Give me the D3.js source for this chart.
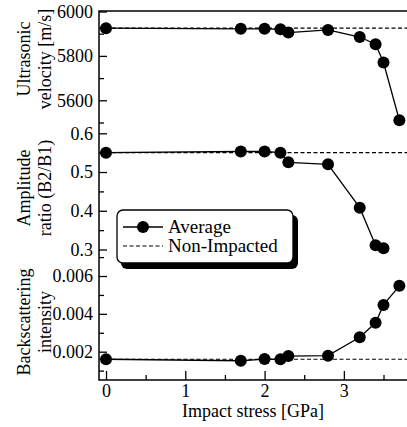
<!DOCTYPE html>
<html><head><meta charset="utf-8">
<script src="https://cdn.jsdelivr.net/npm/d3@7"></script>
<style>body{margin:0;background:#fff}svg{display:block}text{font-family:"Liberation Serif","Times New Roman",serif}</style>
</head><body><svg id="c" width="407" height="427"></svg>
<script>
const stress = [0, 1.7, 2.0, 2.2, 2.3, 2.8, 3.2, 3.4, 3.5, 3.7];
const velocity = [5925, 5922, 5922, 5920, 5905, 5917, 5885, 5853, 5770, 5510];
const velocityRef = 5925;
const amplitudeStress = [0, 1.7, 2.0, 2.2, 2.3, 2.8, 3.2, 3.4, 3.5];
const amplitude = [0.550, 0.553, 0.553, 0.550, 0.525, 0.520, 0.408, 0.311, 0.303];
const amplitudeRef = 0.550;
const backscatter = [0.00160, 0.00152, 0.00161, 0.00160, 0.00177, 0.00179, 0.00276, 0.00353, 0.00447, 0.00548];
const backscatterRef = 0.00160;
const xTicks = [0, 1, 2, 3];
const velTicks = [5600, 5800, 6000];
const ampTicks = [0.3, 0.4, 0.5, 0.6];
const bsTicks = [0.002, 0.004, 0.006];
const legendLabels = ["Average", "Non-Impacted"];

const svg = d3.select("#c");
const L = 99, R = 409, T = 11, B = 380;
const x = d3.scaleLinear().domain([0, 3.8]).range([106, 407.3]);
const yV = d3.scaleLinear().domain([5500, 6000]).range([122.5, 11.5]);
const yA = d3.scaleLinear().domain([0.3, 0.6]).range([249.5, 133.3]);
const yB = d3.scaleLinear().domain([0.001, 0.007]).range([370.6, 257.1]);

function yAxis(scale, major, minor, fmt) {
  const gMin = svg.append("g").attr("transform", `translate(${L},0)`)
    .call(d3.axisLeft(scale).tickValues(minor).tickSizeInner(-5).tickSizeOuter(0).tickFormat(""));
  gMin.select(".domain").remove();
  const g = svg.append("g").attr("transform", `translate(${L},0)`)
    .call(d3.axisLeft(scale).tickValues(major).tickSizeInner(-8).tickSizeOuter(0).tickPadding(6).tickFormat(fmt));
  g.select(".domain").remove();
  [gMin, g].forEach(gg => gg.selectAll("line").attr("stroke", "#000").attr("stroke-width", 1.3));
  g.selectAll("text").attr("font-size", 18).attr("fill", "#000")
    .attr("font-family", '"Liberation Serif",serif');
}
yAxis(yV, velTicks, [5500, 5700, 5900], d3.format("d"));
yAxis(yA, ampTicks, [0.35, 0.45, 0.55], d3.format(".1f"));
yAxis(yB, bsTicks, [0.001, 0.003, 0.005, 0.007], d3.format(".3f"));

const gxMin = svg.append("g").attr("transform", `translate(0,${B})`)
  .call(d3.axisBottom(x).tickValues([0.5, 1.5, 2.5, 3.5]).tickSizeInner(-5).tickSizeOuter(0).tickFormat(""));
gxMin.select(".domain").remove();
const gx = svg.append("g").attr("transform", `translate(0,${B})`)
  .call(d3.axisBottom(x).tickValues(xTicks).tickSizeInner(-9).tickSizeOuter(0).tickPadding(4).tickFormat(d3.format("d")));
gx.select(".domain").remove();
[gxMin, gx].forEach(gg => gg.selectAll("line").attr("stroke", "#000").attr("stroke-width", 1.3));
gx.selectAll("text").attr("font-size", 18).attr("fill", "#000").attr("font-family", '"Liberation Serif",serif');

// frame
svg.append("rect").attr("x", L).attr("y", T).attr("width", R - L).attr("height", B - T)
  .attr("fill", "none").attr("stroke", "#000").attr("stroke-width", 1.5);

function series(xs, ys, ys0, scale) {
  svg.append("line").attr("x1", L).attr("x2", R).attr("y1", scale(ys0)).attr("y2", scale(ys0))
    .attr("stroke", "#000").attr("stroke-width", 1.2).attr("stroke-dasharray", "4,2.5");
  const pts = xs.map((d, i) => [d, ys[i]]);
  svg.append("path").attr("d", d3.line().x(d => x(d[0])).y(d => scale(d[1]))(pts))
    .attr("fill", "none").attr("stroke", "#000").attr("stroke-width", 1.3);
  svg.append("g").selectAll("circle").data(pts).join("circle")
    .attr("cx", d => x(d[0])).attr("cy", d => scale(d[1])).attr("r", 6).attr("fill", "#000");
}
series(stress, velocity, velocityRef, yV);
series(amplitudeStress, amplitude, amplitudeRef, yA);
series(stress, backscatter, backscatterRef, yB);

// legend
const lg = svg.append("g");
lg.append("rect").attr("x", 121).attr("y", 215).attr("width", 177).attr("height", 54).attr("rx", 6).attr("fill", "#000");
lg.append("rect").attr("x", 117).attr("y", 210).attr("width", 176).attr("height", 53).attr("rx", 6)
  .attr("fill", "#fff").attr("stroke", "#000").attr("stroke-width", 1.3);
lg.append("line").attr("x1", 123).attr("x2", 163).attr("y1", 227).attr("y2", 227).attr("stroke", "#000").attr("stroke-width", 1.3);
lg.append("circle").attr("cx", 143).attr("cy", 227).attr("r", 6).attr("fill", "#000");
lg.append("line").attr("x1", 123).attr("x2", 163).attr("y1", 246).attr("y2", 246).attr("stroke", "#000")
  .attr("stroke-width", 1.2).attr("stroke-dasharray", "4,2.5");
lg.selectAll("text.l").data(legendLabels).join("text").attr("class", "l")
  .attr("x", 168).attr("y", (d, i) => 233 + i * 19).attr("font-size", 19).attr("fill", "#000").text(d => d);

// axis titles
svg.append("text").attr("x", 253).attr("y", 417).attr("text-anchor", "middle").attr("font-size", 18).text("Impact stress [GPa]");
function ytitle(lines, cy) {
  const t = svg.append("text").attr("transform", `translate(0,${cy}) rotate(-90)`).attr("text-anchor", "middle").attr("font-size", 18);
  lines.forEach((s, i) => t.append("tspan").attr("x", 0).attr("y", 30 + i * 21).text(s));
}
ytitle(["Ultrasonic", "velocity [m/s]"], 59);
ytitle(["Amplitude", "ratio (B2/B1)"], 188);
ytitle(["Backscattering", "intensity"], 322);
</script></body></html>
